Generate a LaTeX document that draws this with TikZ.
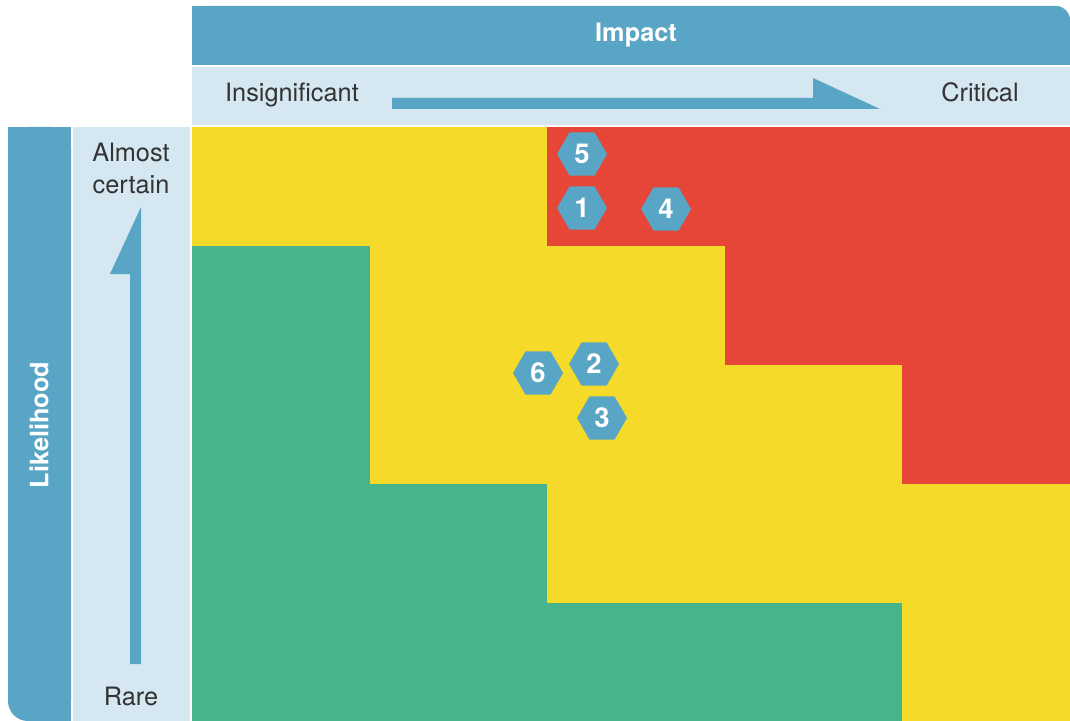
\documentclass[tikz,border=0pt]{standalone}
\usepackage{fontspec}
\setmainfont{TeX Gyre Heros}
\usepackage{tikz}
\usetikzlibrary{shapes.geometric, positioning}
\definecolor{rblue}{HTML}{59A5C5}
\definecolor{rpale}{HTML}{D5E7F1}
\definecolor{ryellow}{HTML}{F6DA2A}
\definecolor{rred}{HTML}{E54638}
\definecolor{rgreen}{HTML}{48B48B}
\definecolor{rtext}{HTML}{333333}
\tikzset{
  axislabel/.style={text=rtext, font=\fontsize{18}{22.8}\selectfont, align=center, inner sep=0pt},
  axistitle/.style={text=white, font=\fontsize{18}{22}\selectfont\bfseries, inner sep=0pt},
  hexa/.style={regular polygon, regular polygon sides=6, fill=rblue, text=white,
               minimum size=1.25cm, inner sep=0pt, font=\fontsize{19.5}{22}\selectfont\bfseries},
  axisarrow/.style={fill=rblue}
}

\begin{document}
\begin{tikzpicture}[x=0.025cm, y=-0.025cm]
  \useasboundingbox (0,0) rectangle (1070,721);
  \fill[white] (0,0) rectangle (1070,721);

  % impact header and scale row
  \fill[rblue, rounded corners=0.35cm] (192,6) rectangle (1070,65);
  \fill[rblue] (192,6) rectangle (1040,65);
  \fill[rblue] (192,30) rectangle (1070,65);
  \fill[rpale] (192,67) rectangle (1070,125);

  % likelihood column and scale column
  \fill[rblue, rounded corners=0.5cm] (8,127) rectangle (71,721);
  \fill[rblue] (8,127) rectangle (71,690);
  \fill[rblue] (40,127) rectangle (71,721);
  \fill[rpale] (73,127) rectangle (190,721);

  % risk cells
  \foreach \row [count=\r from 0] in {{ryellow,ryellow,rred,rred,rred},
                                     {rgreen,ryellow,ryellow,rred,rred},
                                     {rgreen,ryellow,ryellow,ryellow,rred},
                                     {rgreen,rgreen,ryellow,ryellow,ryellow},
                                     {rgreen,rgreen,rgreen,rgreen,ryellow}}
    \foreach \col [count=\c from 0] in \row
      \fill[\col] ({192+177.6*\c},{127+119*\r}) rectangle ({192+177.6*(\c+1)+0.5},{127+119*(\r+1)+0.5});

  % axis arrows
  \fill[axisarrow] (392,98) -- (813,98) -- (813,78) -- (880,109) -- (392,109) -- cycle;
  \fill[axisarrow] (141,664) -- (141,207) -- (110,274) -- (130,274) -- (130,664) -- cycle;

  % labels
  \node[axistitle, anchor=base] (impact) at (636,42) {Impact};
  \node[axislabel, anchor=base] (insig) at (292,102) {Insignificant};
  \node[axislabel, anchor=base] (critical) at (980,102) {Critical};
  \node[axislabel, anchor=base] (certain) at (131,194) {Almost\\certain};
  \node[axislabel, anchor=base] (rare) at (131,705) {Rare};
  \node[axistitle, rotate=90] (likelihood) at (39,425) {Likelihood};

  % risks
  \node[hexa] (risk5) at (582,154) {5};
  \node[hexa] (risk1) at (582,208) {1};
  \node[hexa] (risk4) at (666,209) {4};
  \node[hexa] (risk6) at (538,373) {6};
  \node[hexa] (risk2) at (594,364) {2};
  \node[hexa] (risk3) at (602,418) {3};
\end{tikzpicture}
\end{document}
